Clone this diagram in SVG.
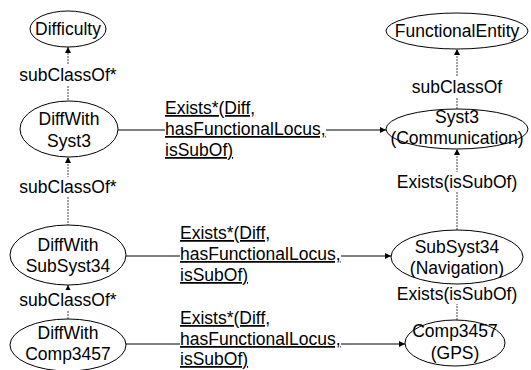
<svg xmlns="http://www.w3.org/2000/svg" width="531" height="370" viewBox="0 0 531 370">
  <style>
    text { font-family: "Liberation Sans", Arial, sans-serif; font-size: 17.5px; fill: #000; }
    .c { text-anchor: middle; }
    .u { text-decoration: underline; }
    ellipse { fill: #fff; stroke: #000; stroke-width: 1; }
    .dash { stroke: #444; stroke-width: 1; stroke-dasharray: 2 1; fill: none; }
    .solid { stroke: #000; stroke-width: 1; fill: none; }
    .bg { fill: #fff; }
  </style>
  <defs>
    <marker id="arr" viewBox="0 0 6 6" refX="6" refY="3" markerWidth="6" markerHeight="6" markerUnits="userSpaceOnUse" orient="auto">
      <path d="M0,0 L6,3 L0,6 z" fill="#000"/>
    </marker>
  </defs>

  <!-- connectors -->
  <g id="connectors">
    <!-- left column: subClassOf* chain -->
    <line class="dash" x1="68" y1="100" x2="68" y2="47" marker-end="url(#arr)"/>
    <rect class="bg" x="20" y="65" width="96" height="20"/>
    <text class="c" x="68" y="81">subClassOf*</text>

    <line class="dash" x1="68" y1="226" x2="68" y2="157" marker-end="url(#arr)"/>
    <rect class="bg" x="20" y="177" width="96" height="20"/>
    <text class="c" x="68" y="193">subClassOf*</text>

    <line class="dash" x1="68" y1="319" x2="68" y2="285" marker-end="url(#arr)"/>
    <rect class="bg" x="20" y="290" width="96" height="20"/>
    <text class="c" x="68" y="306">subClassOf*</text>

    <!-- right column -->
    <line class="dash" x1="457" y1="109" x2="457" y2="49" marker-end="url(#arr)"/>
    <rect class="bg" x="413" y="77" width="88" height="20"/>
    <text class="c" x="457" y="93">subClassOf</text>

    <line class="dash" x1="457" y1="230" x2="457" y2="149" marker-end="url(#arr)"/>
    <rect class="bg" x="392" y="172" width="130" height="20"/>
    <text class="c" x="457" y="188">Exists(isSubOf)</text>

    <line class="dash" x1="457" y1="320" x2="457" y2="284" marker-end="url(#arr)"/>
    <rect class="bg" x="392" y="284" width="130" height="20"/>
    <text class="c" x="457" y="300">Exists(isSubOf)</text>

    <!-- horizontal: Exists* relations -->
    <line class="solid" x1="118" y1="130" x2="386" y2="130" marker-end="url(#arr)"/>
    <rect class="bg" x="165" y="120" width="161" height="20"/>
    <text x="165" y="114" class="u">Exists*(Diff,</text>
    <text x="165" y="135" class="u">hasFunctionalLocus,</text>
    <text x="165" y="156" class="u">isSubOf)</text>

    <line class="solid" x1="126" y1="256" x2="391" y2="256" marker-end="url(#arr)"/>
    <rect class="bg" x="180" y="246" width="161" height="20"/>
    <text x="180" y="239" class="u">Exists*(Diff,</text>
    <text x="180" y="260" class="u">hasFunctionalLocus,</text>
    <text x="180" y="281" class="u">isSubOf)</text>

    <line class="solid" x1="126" y1="344" x2="405" y2="344" marker-end="url(#arr)"/>
    <rect class="bg" x="180" y="334" width="161" height="20"/>
    <text x="180" y="324" class="u">Exists*(Diff,</text>
    <text x="180" y="345" class="u">hasFunctionalLocus,</text>
    <text x="180" y="365" class="u">isSubOf)</text>
  </g>

  <!-- left column nodes -->
  <g id="difficulty">
    <ellipse cx="68" cy="29" rx="38" ry="18"/>
    <text class="c" x="68" y="35">Difficulty</text>
  </g>
  <g id="diffWithSyst3">
    <ellipse cx="69" cy="129" rx="49" ry="28"/>
    <text class="c" x="69" y="125">DiffWith</text>
    <text class="c" x="69" y="147">Syst3</text>
  </g>
  <g id="diffWithSubSyst34">
    <ellipse cx="68" cy="255" rx="58" ry="30"/>
    <text class="c" x="68" y="251">DiffWith</text>
    <text class="c" x="68" y="272">SubSyst34</text>
  </g>
  <g id="diffWithComp3457">
    <ellipse cx="68" cy="345" rx="58" ry="26"/>
    <text class="c" x="68" y="339">DiffWith</text>
    <text class="c" x="68" y="360">Comp3457</text>
  </g>

  <!-- right column nodes -->
  <g id="functionalEntity">
    <ellipse cx="457" cy="31" rx="71" ry="18"/>
    <text class="c" x="457" y="37">FunctionalEntity</text>
  </g>
  <g id="syst3">
    <ellipse cx="457" cy="129" rx="71" ry="20"/>
    <text class="c" x="457" y="123">Syst3</text>
    <text class="c" x="457" y="144">(Communication)</text>
  </g>
  <g id="subSyst34">
    <ellipse cx="457" cy="257" rx="66" ry="27"/>
    <text class="c" x="457" y="253">SubSyst34</text>
    <text class="c" x="457" y="274">(Navigation)</text>
  </g>
  <g id="comp3457">
    <ellipse cx="455" cy="343" rx="50" ry="23"/>
    <text class="c" x="455" y="337">Comp3457</text>
    <text class="c" x="455" y="359">(GPS)</text>
  </g>
</svg>
